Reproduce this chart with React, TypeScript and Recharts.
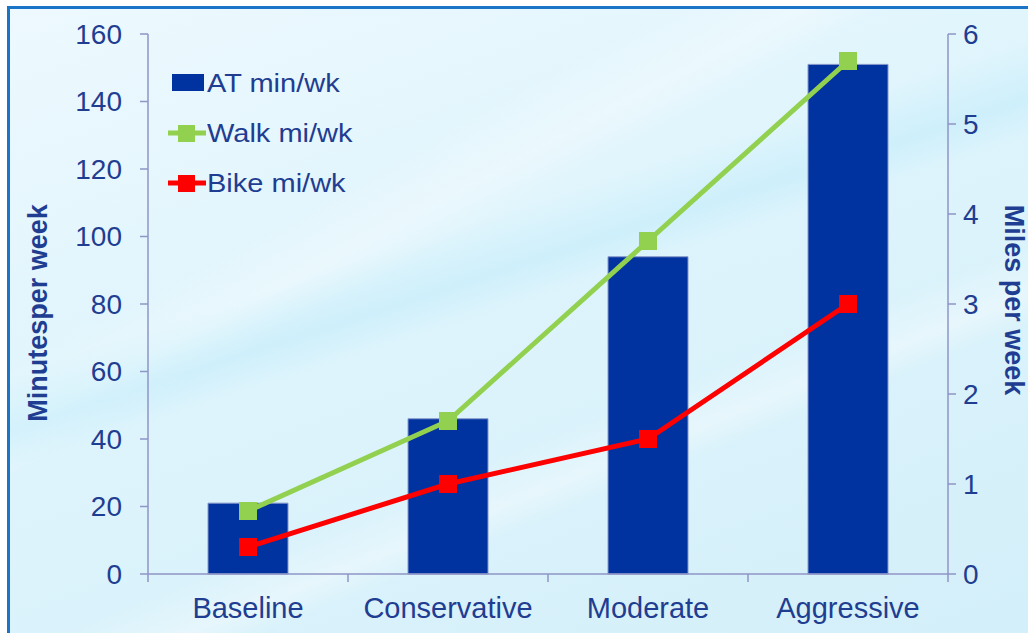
import React from "react";
import {Bar, ComposedChart, Legend, Line, XAxis, YAxis} from "recharts";

const categories = ["Baseline", "Conservative", "Moderate", "Aggressive"];
const atMinutes = [21, 46, 94, 151];
const walkMiles = [0.7, 1.7, 3.7, 5.7];
const bikeMiles = [0.3, 1.0, 1.5, 3.0];
const minuteTicks = [0, 20, 40, 60, 80, 100, 120, 140, 160];
const mileTicks = [0, 1, 2, 3, 4, 5, 6];

const data = categories.map((name, i) => ({
    name,
    at: atMinutes[i],
    walk: walkMiles[i],
    bike: bikeMiles[i]
}));

const TEXT = "#1f3d91";
const AXIS = "#8f95c6";
const BAR = "#00339f";
const WALK = "#92d050";
const BIKE = "#ff0000";
const FONT = "'Liberation Sans', Arial, sans-serif";
const WIDTH = 1028;
const HEIGHT = 633;
const PLOT_LEFT = 148;
const PLOT_RIGHT = 80;
const BAND = (WIDTH - PLOT_LEFT - PLOT_RIGHT) / categories.length;

const legendItems = [
    {label: "AT min/wk", color: BAR, kind: "bar"},
    {label: "Walk mi/wk", color: WALK, kind: "line"},
    {label: "Bike mi/wk", color: BIKE, kind: "line"}
];

const SquareDot = (props: any) => {
    const {cx, cy, stroke} = props;
    if (cx == null || cy == null) return null;
    return <rect x={cx - 9} y={cy - 9} width={18} height={18} fill={stroke} />;
};

const CategoryTick = (props: any) => {
    const {x, y, payload, index} = props;
    return <g>
        <line x1={x - BAND / 2} y1={y} x2={x - BAND / 2} y2={y + 8} stroke={AXIS} strokeWidth={1.5} />
        {index === categories.length - 1 &&
            <line x1={x + BAND / 2} y1={y} x2={x + BAND / 2} y2={y + 8} stroke={AXIS} strokeWidth={1.5} />}
        <text x={x} y={y + 44} textAnchor="middle" fill={TEXT} fontSize={29} fontFamily={FONT}>
            {payload.value}
        </text>
    </g>;
};

// legend text in the source is a bit wider than plain Arial, so stretch it a little
const renderLegend = () => (
    <div style={{fontFamily: FONT, fontSize: 25, color: TEXT}}>
        {legendItems.map(item => (
            <div key={item.label} style={{display: "flex", alignItems: "center", height: 50}}>
                <svg width={40} height={24}>
                    {item.kind === "bar"
                        ? <rect x={5} y={3} width={32} height={17} fill={item.color} />
                        : <g>
                            <line x1={1} y1={12} x2={39} y2={12} stroke={item.color} strokeWidth={5} />
                            <rect x={11} y={4} width={17} height={17} fill={item.color} />
                        </g>}
                </svg>
                <span style={{display: "inline-block", transform: "scaleX(1.16)", transformOrigin: "left center"}}>
                    {item.label}
                </span>
            </div>
        ))}
    </div>
);

const background = [
    "linear-gradient(-22deg, rgba(255,255,255,0) 30%, rgba(255,255,255,0.35) 33%, rgba(255,255,255,0) 38%)",
    "linear-gradient(-18deg, rgba(255,255,255,0) 52%, rgba(190,235,250,0.5) 56%, rgba(255,255,255,0) 62%)",
    "linear-gradient(-28deg, rgba(255,255,255,0) 60%, rgba(255,255,255,0.3) 64%, rgba(255,255,255,0) 70%)",
    "linear-gradient(160deg, #edf9fe 0%, #def4fc 45%, #d3eff9 100%)"
].join(", ");

const App: React.FC = () => {
    return <div style={{position: "absolute", left: 0, top: 0, width: WIDTH, height: HEIGHT, background: "#fff", overflow: "hidden"}}>
        <div style={{
            position: "absolute", left: 7, top: 6, width: WIDTH - 7, height: HEIGHT - 6,
            borderLeft: "3px solid #1b74c6", borderTop: "3px solid #1b74c6", background
        }} />
        <div style={{position: "absolute", left: 0, top: 0}}>
            <ComposedChart width={WIDTH} height={HEIGHT} data={data}
                           margin={{top: 34, right: 0, left: 0, bottom: 0}}>
                <XAxis dataKey="name" height={59} stroke={AXIS} strokeWidth={1.5}
                       tickLine={false} tickSize={0} tickMargin={0} tick={<CategoryTick />} />
                <YAxis yAxisId="left" width={PLOT_LEFT} domain={[0, 160]} ticks={minuteTicks}
                       interval={0} stroke={AXIS} strokeWidth={1.5} tickSize={8} tickMargin={18}
                       tick={{fill: TEXT, fontSize: 28, fontFamily: FONT}} />
                <YAxis yAxisId="right" orientation="right" width={PLOT_RIGHT} domain={[0, 6]}
                       ticks={mileTicks} interval={0} stroke={AXIS} strokeWidth={1.5}
                       tickSize={8} tickMargin={7}
                       tick={{fill: TEXT, fontSize: 28, fontFamily: FONT}} />
                <Legend content={renderLegend} layout="horizontal" verticalAlign="middle" align="center"
                        wrapperStyle={{position: "absolute", left: 167, top: 58, width: "auto", height: "auto"}} />
                <Bar yAxisId="left" dataKey="at" name="AT min/wk" fill={BAR} stroke="#8797cc"
                     strokeWidth={1} barSize={80} isAnimationActive={false} />
                <Line yAxisId="right" dataKey="walk" name="Walk mi/wk" stroke={WALK} strokeWidth={5}
                      dot={<SquareDot />} activeDot={false} isAnimationActive={false} />
                <Line yAxisId="right" dataKey="bike" name="Bike mi/wk" stroke={BIKE} strokeWidth={5}
                      dot={<SquareDot />} activeDot={false} isAnimationActive={false} />
            </ComposedChart>
        </div>
        <div style={{
            position: "absolute", left: 38, top: 313, transform: "translate(-50%, -50%) rotate(-90deg)",
            whiteSpace: "nowrap", fontFamily: FONT, fontWeight: "bold", fontSize: 27, color: TEXT
        }}>Minutesper week</div>
        <div style={{
            position: "absolute", left: 1013, top: 300, transform: "translate(-50%, -50%) rotate(90deg)",
            whiteSpace: "nowrap", fontFamily: FONT, fontWeight: "bold", fontSize: 27, color: TEXT
        }}>Miles per week</div>
    </div>;
};

export default App;
